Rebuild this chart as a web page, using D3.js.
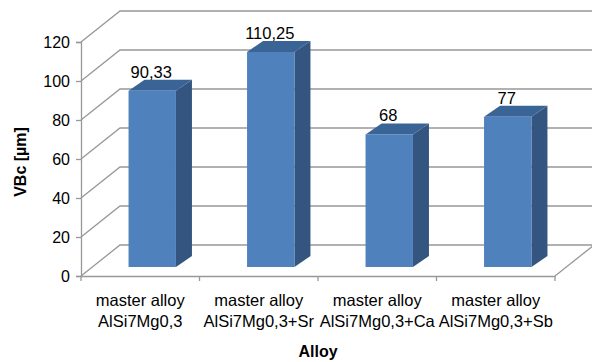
<!DOCTYPE html>
<html>
<head>
<meta charset="utf-8">
<script src="https://cdn.jsdelivr.net/npm/d3@7"></script>
<style>
  html, body { margin: 0; padding: 0; background: #fff; }
  svg { display: block; }
  text { font-family: "Liberation Sans", Arial, sans-serif; fill: #000; }
</style>
</head>
<body>
<svg id="chart" width="592" height="362"></svg>
<script>
// Categories (two-line labels) and measured VBc values
const categories = ["AlSi7Mg0,3", "AlSi7Mg0,3+Sr", "AlSi7Mg0,3+Ca", "AlSi7Mg0,3+Sb"];
const categoryPrefix = ["master alloy", "master alloy", "master alloy", "master alloy"];
const values = [90.33, 110.25, 68, 77];
const valueLabels = ["90,33", "110,25", "68", "77"];
const yTicks = [0, 20, 40, 60, 80, 100, 120];
const yTitle = "VBc [µm]";
const xTitle = "Alloy";

const svg = d3.select("#chart");

// Front plane of the 3D plot area
const plotLeft = 81, plotRight = 555, plotTop = 42, plotBottom = 276;
// Depth vector of the walls (oblique projection)
const wallDx = 39, wallDy = -31;
// Bars sit inside the depth: front offset and own depth
const barOffX = 12, barOffY = -9;
const barDx = 16, barDy = -11;

const y = d3.scaleLinear().domain([0, 120]).range([plotBottom, plotTop]);
const x = d3.scaleBand().domain(categories).range([plotLeft, plotRight]);
const barW = x.bandwidth() * 0.4;

const gridColor = "#989898";

// Walls: side-wall diagonals and back-wall horizontals
const grid = svg.append("g").attr("fill", "none").attr("stroke", gridColor).attr("stroke-width", 1.3);
yTicks.forEach(v => {
  const yy = y(v);
  grid.append("path")
    .attr("d", d3.line()([[plotLeft, yy], [plotLeft + wallDx, yy + wallDy], [plotRight + wallDx + 2, yy + wallDy]]));
});
// Floor right edge
grid.append("path").attr("d", d3.line()([[plotRight, plotBottom], [plotRight + wallDx, plotBottom + wallDy]]));

// Value axis
const yAxis = svg.append("g")
  .attr("transform", `translate(${plotLeft},0)`)
  .call(d3.axisLeft(y).tickValues(yTicks).tickSize(5).tickPadding(6).tickFormat(d3.format("d")));
yAxis.select(".domain").attr("stroke", gridColor).attr("stroke-width", 1.3);
yAxis.selectAll(".tick line").attr("stroke", gridColor).attr("stroke-width", 1.3);
yAxis.selectAll(".tick text").attr("font-size", 16).attr("font-family", "Liberation Sans, Arial, sans-serif").attr("fill", "#000");

// Category axis
const xAxis = svg.append("g")
  .attr("transform", `translate(0,${plotBottom})`)
  .call(d3.axisBottom(x).tickSize(0).tickFormat(""));
xAxis.select(".domain").attr("stroke", gridColor).attr("stroke-width", 1.3);
xAxis.selectAll(".tick").remove();
const boundaries = categories.map(c => x(c)).concat([x(categories[categories.length - 1]) + x.bandwidth()]);
xAxis.selectAll("line.sep").data(boundaries).join("line")
  .attr("class", "sep")
  .attr("x1", d => d).attr("x2", d => d)
  .attr("y1", 0).attr("y2", 5)
  .attr("stroke", gridColor).attr("stroke-width", 1.3);

// Bars
const bars = svg.append("g");
categories.forEach((c, i) => {
  const x0 = x(c) + (x.bandwidth() - barW) / 2 + barOffX;
  const x1 = x0 + barW;
  const yb = y(0) + barOffY;
  const yt = y(values[i]) + barOffY;
  const g = bars.append("g");
  // right side face
  g.append("path").attr("fill", "#34557f")
    .attr("d", d3.line()([[x1, yt], [x1 + barDx, yt + barDy], [x1 + barDx, yb + barDy], [x1, yb]]) + "Z");
  // top face
  g.append("path").attr("fill", "#3b6496")
    .attr("d", d3.line()([[x0, yt], [x0 + barDx, yt + barDy], [x1 + barDx, yt + barDy], [x1, yt]]) + "Z");
  // front face
  g.append("rect").attr("fill", "#4f81bd")
    .attr("x", x0).attr("y", yt).attr("width", barW).attr("height", yb - yt);
  // value label
  g.append("text")
    .attr("x", (x0 + x1) / 2 - 1)
    .attr("y", yt + barDy - 2)
    .attr("text-anchor", "middle")
    .attr("font-size", 16.5)
    .text(valueLabels[i]);
});

// Category labels (two lines)
const catLabels = svg.append("g");
categories.forEach((c, i) => {
  const cx = x(c) + x.bandwidth() / 2;
  catLabels.append("text").attr("x", cx).attr("y", 306).attr("text-anchor", "middle")
    .attr("font-size", 16.5).attr("fill", "#2a2a2a").text(categoryPrefix[i]);
  catLabels.append("text").attr("x", cx).attr("y", 327).attr("text-anchor", "middle")
    .attr("font-size", 16.5).attr("fill", "#2a2a2a").text(c);
});

// Axis titles
svg.append("text")
  .attr("transform", `translate(26,${(plotTop + plotBottom) / 2 + 3}) rotate(-90)`)
  .attr("text-anchor", "middle").attr("font-size", 16).attr("font-weight", "bold")
  .text(yTitle);
svg.append("text")
  .attr("x", (plotLeft + plotRight) / 2).attr("y", 357)
  .attr("text-anchor", "middle").attr("font-size", 16).attr("font-weight", "bold")
  .text(xTitle);
</script>
</body>
</html>
